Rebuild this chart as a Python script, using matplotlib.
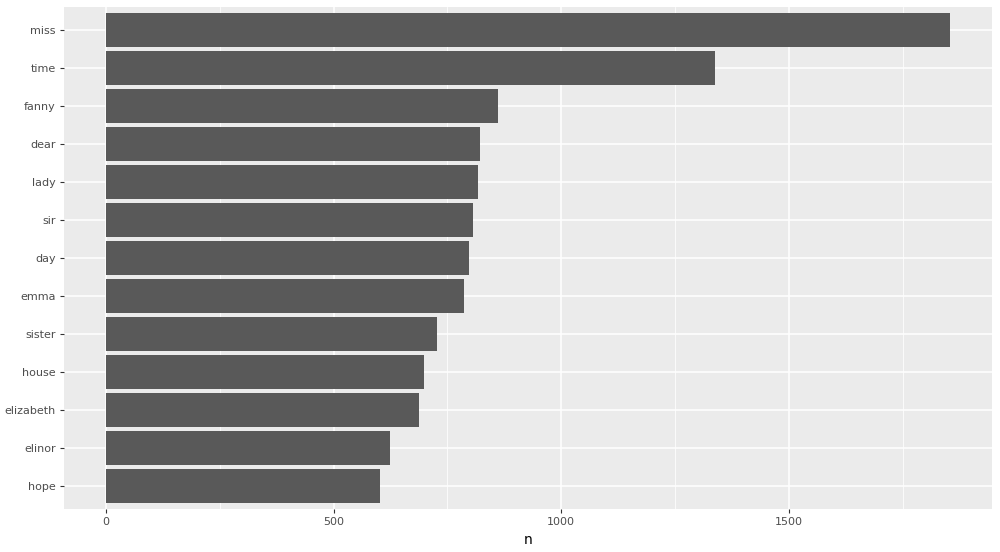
import matplotlib
matplotlib.use("Agg")
import matplotlib.pyplot as plt
from matplotlib.ticker import MultipleLocator

words = ["miss", "time", "fanny", "dear", "lady", "sir", "day", "emma",
         "sister", "house", "elizabeth", "elinor", "hope"]
counts = [1855, 1337, 862, 822, 817, 806, 797, 787, 727, 699, 687, 623, 601]

fig = plt.figure(figsize=(10, 5.52), dpi=100)
ax = fig.add_axes([0.064, 43 / 552, 0.9285, 502 / 552])
ax.set_facecolor("#EBEBEB")

# bottom-up order like ggplot's reorder()
pos = list(range(len(words), 0, -1))
ax.barh(pos, counts, height=0.9, color="#595959", zorder=3)

ax.set_xlim(-92.75, 1947.75)
ax.set_ylim(0.4, len(words) + 0.6)
ax.set_yticks(pos)
ax.set_yticklabels(words)
ax.xaxis.set_major_locator(MultipleLocator(500))
ax.xaxis.set_minor_locator(MultipleLocator(250))
ax.grid(which="major", color="white", linewidth=1.1, zorder=1)
ax.grid(which="minor", axis="x", color="white", linewidth=0.55, zorder=1)
ax.tick_params(which="minor", length=0)
ax.tick_params(which="major", length=3, color="#333333", labelcolor="#4D4D4D",
               labelsize=8, pad=3, width=0.8)
for s in ax.spines.values():
    s.set_visible(False)
ax.set_xlabel("n", fontsize=10, labelpad=4)

fig.savefig("out.png", dpi=100)
